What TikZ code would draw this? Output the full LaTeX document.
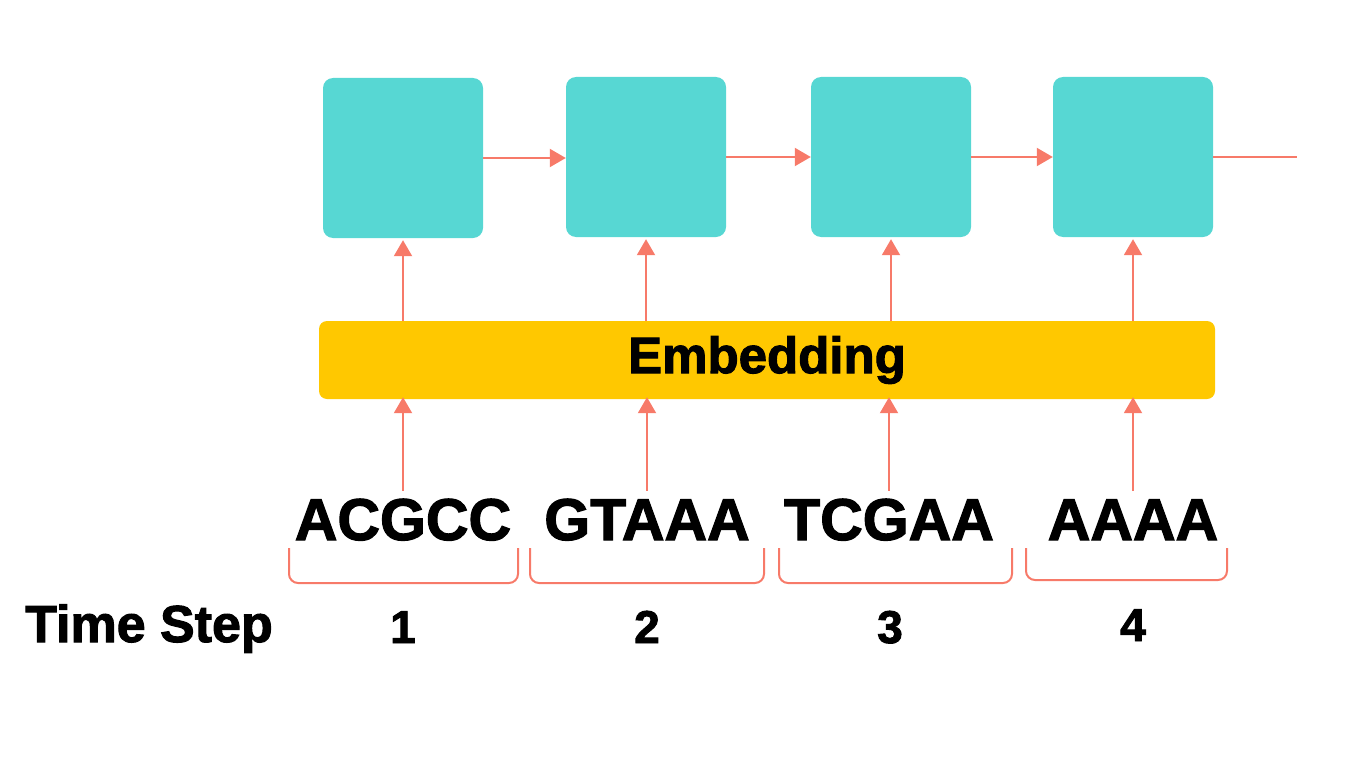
\documentclass[tikz,border=0pt]{standalone}
\usepackage{fontspec}
\setmainfont{Liberation Sans}[BoldFeatures={FakeBold=2}]
\usetikzlibrary{arrows.meta}
\definecolor{cellteal}{HTML}{57D7D3}
\definecolor{embgold}{HTML}{FFC800}
\definecolor{salmon}{HTML}{F77A69}
\tikzset{
	cell/.style={fill=cellteal, rounded corners=10pt, minimum width=160pt, minimum height=160pt, inner sep=0pt},
	embed/.style={fill=embgold, rounded corners=8pt, minimum width=896pt, minimum height=78pt, inner sep=0pt, font=\fontsize{51}{55}\selectfont\bfseries},
	seq/.style={anchor=base, inner sep=0pt, font=\fontsize{59}{64}\selectfont\bfseries},
	stepnum/.style={anchor=base, inner sep=0pt, font=\fontsize{46}{50}\selectfont\bfseries},
	arr/.style={salmon, line width=2pt, -{Triangle[length=16pt, width=18pt]}},
	link/.style={salmon, line width=2pt},
	brace/.style={salmon, line width=2pt, rounded corners=9pt}
}
\begin{document}
\begin{tikzpicture}[x=1pt, y=-1pt]
	\useasboundingbox (0,0) rectangle (1366,768);

	% recurrent cells
	\node[cell] (c1) at (403,158) {};
	\node[cell] (c2) at (646,157) {};
	\node[cell] (c3) at (891,157) {};
	\node[cell] (c4) at (1133,157) {};
	\coordinate (out) at (1297,157);

	\node[embed] (emb) at (767,360) {Embedding};

	% input sequences
	\node[seq] (s1) at (403,540) {ACGCC};
	\node[seq] (s2) at (647,540) {GTAAA};
	\node[seq] (s3) at (889,540) {TCGAA};
	\node[seq] (s4) at (1133,540) {AAAA};

	\node[stepnum] (t1) at (403,643) {1};
	\node[stepnum] (t2) at (647,643) {2};
	\node[stepnum] (t3) at (890,643) {3};
	\node[stepnum] (t4) at (1133,641) {4};
	\node[stepnum, font=\fontsize{52}{56}\selectfont\bfseries] (ts) at (149,642) {Time Step};

	\draw[arr] (c1.east) -- (c1.east -| c2.west);
	\draw[arr] (c2.east) -- (c3.west);
	\draw[arr] (c3.east) -- (c4.west);
	\draw[link] (c4.east) -- (out);

	\foreach \i in {1,...,4} {
		\draw[arr] (c\i |- emb.north) -- ([yshift=-2pt]c\i.south);
		\draw[arr] ([yshift=8pt]s\i.north) -- ([yshift=2pt]s\i |- emb.south);
	}

	% brackets under the sequences
	\draw[brace] (289,548) -- (289,583) -- (518,583) -- (518,548);
	\draw[brace] (530,548) -- (530,583) -- (764,583) -- (764,548);
	\draw[brace] (779,548) -- (779,583) -- (1012,583) -- (1012,548);
	\draw[brace] (1026,548) -- (1026,580) -- (1227,580) -- (1227,548);
\end{tikzpicture}
\end{document}
